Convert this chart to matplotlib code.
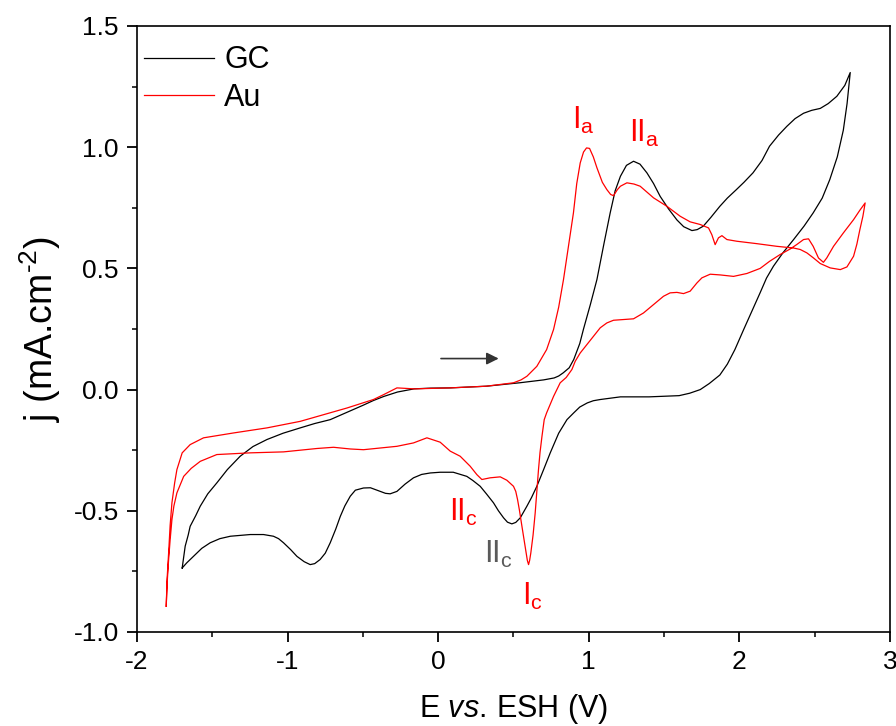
import matplotlib
matplotlib.use("Agg")
import matplotlib.pyplot as plt

plt.rcParams['font.family'] = ['Liberation Sans', 'DejaVu Sans']
plt.rcParams['mathtext.fontset'] = 'custom'
plt.rcParams['mathtext.rm'] = 'Liberation Sans'
plt.rcParams['mathtext.it'] = 'Liberation Sans:italic'
plt.rcParams['axes.unicode_minus'] = False

# GC (glassy carbon) cycle: forward scan then reverse scan
gc_x = [-1.70, -1.69, -1.68, -1.66, -1.647, -1.61, -1.58, -1.53, -1.47, -1.40, -1.315, -1.23, -1.137, -1.03,
        -0.916, -0.82, -0.717, -0.61, -0.50, -0.43, -0.36, -0.27, -0.16, -0.05,
        0.08, 0.32, 0.54, 0.70, 0.77, 0.80, 0.83, 0.87, 0.90, 0.94, 0.965, 1.01, 1.054, 1.10, 1.142, 1.175, 1.21,
        1.25, 1.297, 1.34, 1.386, 1.43, 1.474, 1.53, 1.585, 1.63, 1.685, 1.72, 1.76, 1.81, 1.87, 1.92, 1.98, 2.03,
        2.09, 2.15, 2.20, 2.26, 2.315, 2.37, 2.426, 2.48, 2.537, 2.59, 2.647, 2.70, 2.736,
        2.715, 2.69, 2.65, 2.60, 2.55, 2.49, 2.43, 2.36, 2.29, 2.226, 2.18, 2.138, 2.08, 2.03, 1.97, 1.92,
        1.87, 1.80, 1.74, 1.67, 1.60, 1.40, 1.21, 1.076, 1.03, 0.99, 0.94, 0.90,
        0.855, 0.80, 0.744, 0.70, 0.655, 0.62, 0.589, 0.545, 0.515, 0.489, 0.46, 0.434, 0.40, 0.367, 0.32,
        0.279, 0.23, 0.19, 0.10, 0.013,
        -0.053, -0.11, -0.164, -0.22, -0.274, -0.319, -0.35, -0.385, -0.45, -0.496, -0.55, -0.584, -0.62, -0.65,
        -0.68, -0.717, -0.75, -0.784, -0.82, -0.85, -0.89, -0.938, -0.98, -1.027, -1.06, -1.094, -1.16, -1.248,
        -1.38, -1.45, -1.514, -1.57, -1.625, -1.67, -1.70]
gc_y = [-0.736, -0.69, -0.646, -0.60, -0.564, -0.52, -0.481, -0.43, -0.385, -0.33, -0.275, -0.235, -0.206, -0.18,
        -0.158, -0.14, -0.124, -0.095, -0.065, -0.045, -0.028, -0.010, 0.003, 0.006,
        0.007, 0.014, 0.028, 0.040, 0.048, 0.056, 0.069, 0.09, 0.124, 0.19, 0.25, 0.35, 0.454, 0.60, 0.729, 0.82, 0.88,
        0.925, 0.942, 0.93, 0.894, 0.85, 0.797, 0.745, 0.70, 0.672, 0.656, 0.66, 0.674, 0.71, 0.756, 0.79, 0.825, 0.855,
        0.894, 0.945, 1.004, 1.05, 1.086, 1.118, 1.14, 1.152, 1.16, 1.18, 1.21, 1.255, 1.308,
        1.18, 1.07, 0.96, 0.866, 0.79, 0.729, 0.675, 0.619, 0.565, 0.509, 0.46, 0.40, 0.32, 0.25, 0.165, 0.105,
        0.06, 0.025, 0.0, -0.015, -0.025, -0.03, -0.03, -0.041, -0.046, -0.055, -0.072, -0.096,
        -0.124, -0.18, -0.261, -0.33, -0.399, -0.445, -0.481, -0.529, -0.548, -0.554, -0.547, -0.529, -0.50, -0.467,
        -0.43, -0.399, -0.375, -0.358, -0.341, -0.341,
        -0.344, -0.35, -0.364, -0.39, -0.42, -0.43, -0.428, -0.42, -0.405, -0.406, -0.415, -0.44, -0.48, -0.523,
        -0.575, -0.632, -0.675, -0.701, -0.718, -0.722, -0.71, -0.688, -0.66, -0.632, -0.615, -0.605, -0.598, -0.598,
        -0.605, -0.615, -0.632, -0.655, -0.688, -0.715, -0.736]

# Au electrode cycle
au_x = [-1.806, -1.80, -1.79, -1.78, -1.768, -1.75, -1.735, -1.70, -1.647, -1.558, -1.36, -1.137, -0.916, -0.606,
        -0.43, -0.363, -0.274, -0.16, 0.08, 0.32, 0.50, 0.55, 0.589, 0.655, 0.72, 0.766, 0.80, 0.832, 0.865, 0.898,
        0.92, 0.943, 0.965, 0.985, 1.005, 1.03, 1.054, 1.09, 1.12, 1.145, 1.164, 1.19, 1.21, 1.253, 1.30, 1.341,
        1.43, 1.519, 1.607, 1.673, 1.74, 1.795, 1.817, 1.839, 1.861, 1.884, 1.917, 1.983, 2.116, 2.249, 2.36,
        2.404, 2.448, 2.492, 2.537, 2.603, 2.67, 2.714, 2.758, 2.78, 2.80, 2.82, 2.835,
        2.80, 2.758, 2.69, 2.625, 2.58, 2.558, 2.525, 2.49, 2.459, 2.426, 2.38, 2.337, 2.27, 2.20, 2.138, 2.05,
        1.961, 1.873, 1.806, 1.751, 1.718, 1.673, 1.629, 1.585, 1.54, 1.496, 1.43, 1.363, 1.297, 1.23, 1.164, 1.12,
        1.076, 1.031, 0.987, 0.943, 0.91, 0.888, 0.85, 0.81, 0.766, 0.72, 0.704, 0.689, 0.676, 0.666, 0.655,
        0.644, 0.63, 0.615, 0.607, 0.60, 0.592, 0.584, 0.57, 0.556, 0.54, 0.527, 0.515, 0.50, 0.456, 0.412,
        0.345, 0.29, 0.257, 0.212, 0.146, 0.08, 0.013, -0.075, -0.164, -0.274, -0.496, -0.584, -0.695, -0.805,
        -1.027, -1.248, -1.47, -1.58, -1.64, -1.69, -1.735, -1.755, -1.768, -1.78, -1.79, -1.80, -1.806]
au_y = [-0.894, -0.78, -0.674, -0.56, -0.467, -0.385, -0.33, -0.261, -0.227, -0.199, -0.179, -0.158, -0.131, -0.076,
        -0.041, -0.021, 0.007, 0.003, 0.007, 0.014, 0.028, 0.040, 0.055, 0.096, 0.165, 0.248, 0.34, 0.454, 0.59, 0.729,
        0.85, 0.935, 0.98, 0.997, 0.995, 0.96, 0.915, 0.855, 0.825, 0.805, 0.80, 0.825, 0.839, 0.853, 0.848, 0.839,
        0.791, 0.756, 0.715, 0.692, 0.681, 0.667, 0.639, 0.598, 0.626, 0.635, 0.619, 0.612, 0.602, 0.591, 0.584,
        0.578, 0.564, 0.543, 0.52, 0.502, 0.495, 0.506, 0.55, 0.60, 0.66, 0.715, 0.77,
        0.74, 0.701, 0.646, 0.591, 0.543, 0.525, 0.543, 0.591, 0.622, 0.619, 0.598, 0.58, 0.557, 0.529, 0.50, 0.479,
        0.467, 0.473, 0.476, 0.461, 0.44, 0.406, 0.396, 0.401, 0.399, 0.385, 0.351, 0.316, 0.292, 0.289, 0.286, 0.275,
        0.255, 0.22, 0.186, 0.151, 0.117, 0.083, 0.05, 0.028, -0.028, -0.096, -0.124, -0.193, -0.26, -0.33, -0.42,
        -0.509, -0.60, -0.674, -0.705, -0.722, -0.705, -0.674, -0.62, -0.564, -0.50, -0.454, -0.42, -0.399, -0.374, -0.36,
        -0.364, -0.371, -0.351, -0.316, -0.275, -0.254, -0.217, -0.199, -0.22, -0.234, -0.248, -0.245, -0.238, -0.243,
        -0.257, -0.261, -0.268, -0.296, -0.325, -0.358, -0.426, -0.48, -0.536, -0.62, -0.701, -0.80, -0.894]

fig = plt.figure(figsize=(8.96, 7.26), dpi=100)
ax = fig.add_axes([0.1529, 0.1295, 0.8404, 0.8347])

ax.plot(gc_x, gc_y, color='black', lw=0.9, label='GC')
ax.plot(au_x, au_y, color='#ff0000', lw=0.9, label='Au')

ax.set_xlim(-2, 3)
ax.set_ylim(-1.0, 1.5)
ax.set_xticks([-2, -1, 0, 1, 2, 3])
ax.set_xticks([-1.5, -0.5, 0.5, 1.5, 2.5], minor=True)
ax.set_yticks([-1.0, -0.5, 0.0, 0.5, 1.0, 1.5])
ax.set_yticklabels(['-1.0', '-0.5', '0.0', '0.5', '1.0', '1.5'])
ax.set_yticks([-0.75, -0.25, 0.25, 0.75, 1.25], minor=True)
ax.tick_params(which='major', direction='out', length=7, width=1.3, labelsize=19, pad=6,
               top=False, right=False)
ax.tick_params(which='minor', direction='out', length=3.5, width=1.1, top=False, right=False)
for s in ax.spines.values():
    s.set_linewidth(1.2)

ax.set_xlabel('E $\\mathit{vs.}\\,$ESH (V)', fontsize=22, labelpad=13)
ax.set_ylabel('j (mA.cm$^{\\text{-2}}$)', fontsize=27, labelpad=8)

ax.legend(loc='upper left', bbox_to_anchor=(-0.007, 0.988), frameon=False, fontsize=22,
          handlelength=2.3, handletextpad=0.33, borderpad=0.25, borderaxespad=0.15, labelspacing=0.25)

# peak labels
ax.text(0.963, 1.11, 'I$_\\mathrm{a}$', color='#ff0000', fontsize=22, ha='center', va='center')
ax.text(1.368, 1.055, 'II$_\\mathrm{a}$', color='#ff0000', fontsize=22, ha='center', va='center')
ax.text(0.166, -0.508, 'II$_\\mathrm{c}$', color='#ff0000', fontsize=22, ha='center', va='center')
ax.text(0.40, -0.68, 'II$_\\mathrm{c}$', color='#5a5a5a', fontsize=22, ha='center', va='center')
ax.text(0.625, -0.853, 'I$_\\mathrm{c}$', color='#ff0000', fontsize=22, ha='center', va='center')

# scan direction arrow
ax.annotate('', xy=(0.42, 0.128), xytext=(0.0, 0.128),
            arrowprops=dict(arrowstyle='-|>', color='#333333', lw=1.2, mutation_scale=18))

fig.savefig('out.png', dpi=100)
